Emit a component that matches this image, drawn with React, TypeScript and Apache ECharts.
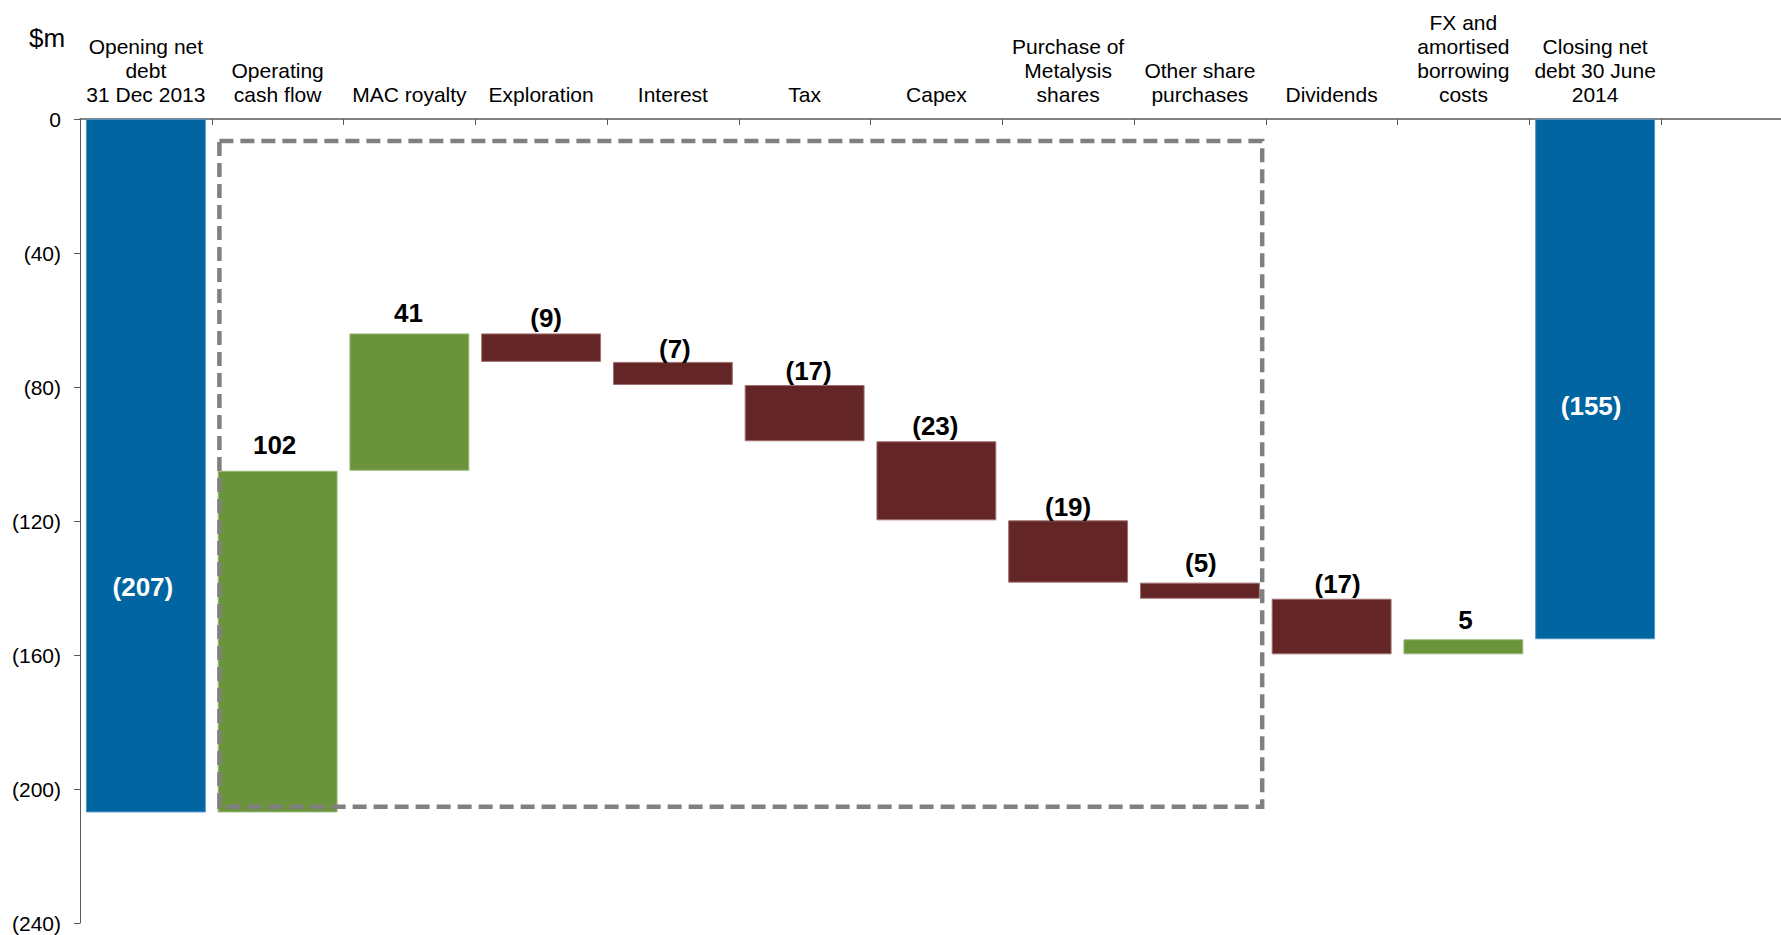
import React, { useEffect, useRef } from "react";
import * as echarts from "echarts";

// ---- Data (US$ m, net debt shown as negative) ----
const categories = [
  "Opening net\ndebt\n31 Dec 2013",
  "Operating\ncash flow",
  "MAC royalty",
  "Exploration",
  "Interest",
  "Tax",
  "Capex",
  "Purchase of\nMetalysis\nshares",
  "Other share\npurchases",
  "Dividends",
  "FX and\namortised\nborrowing\ncosts",
  "Closing net\ndebt 30 June\n2014",
];
const openingNetDebt = -207;
const movements = [102, 41, -8.5, -6.9, -16.8, -23.6, -18.6, -4.8, -16.6, 4.5];
const closingNetDebt = -155.3;
const valueLabels = ["(207)", "102", "41", "(9)", "(7)", "(17)", "(23)", "(19)", "(5)", "(17)", "5", "(155)"];
const yMin = -240;
const yMax = 0;
const yInterval = 40;
// highlighted range: first & last category index, top & bottom value
const boxCategories = [1, 8];
const boxValues = [-6.6, -205.3];

const BLUE = "#0065a1";
const GREEN = "#6a933a";
const RED = "#632526";

export default function App() {
  const ref = useRef<HTMLDivElement>(null);

  useEffect(() => {
    if (!ref.current) return;
    const chart = echarts.init(ref.current, undefined, { renderer: "svg" });

    const baseData: number[] = [];
    const barData: any[] = [];
    const n = categories.length;
    let level = 0;
    const segments: [number, number, string][] = [];
    segments.push([0, openingNetDebt, BLUE]);
    level = openingNetDebt;
    movements.forEach((m) => {
      const next = level + m;
      segments.push([level, next, m >= 0 ? GREEN : RED]);
      level = next;
    });
    segments.push([0, closingNetDebt, BLUE]);

    const gaps = [0, 13, 7, 2, 0, 1, 2, 0, 7, 2, 6, 0];
    const shifts = [0, -3, -1, 5, 2, 4, -1, 0, 1, 6, 2, 0];
    segments.forEach(([a, b, color], i) => {
      const top = Math.max(a, b);
      const bottom = Math.min(a, b);
      baseData.push(top);
      const isTotal = i === 0 || i === n - 1;
      barData.push({
        value: bottom - top,
        itemStyle: {
          color,
          borderColor: color === BLUE ? "#4f94c6" : color === GREEN ? "#9dba7e" : "#a07071",
          borderWidth: 1,
        },
        label: isTotal
          ? {
              show: true,
              position: "inside",
              color: "#fff",
              offset: i === 0 ? [-3, 121] : [-4, 27],
            }
          : { show: true, position: "top", distance: gaps[i], offset: [shifts[i], 0], color: "#000" },
      });
    });

    const font = "'Liberation Sans', Arial, sans-serif";

    chart.setOption({
      animation: false,
      grid: { left: 80, top: 119, width: 1581, height: 804 },
      xAxis: {
        type: "category",
        position: "top",
        data: categories,
        axisLine: { show: true, lineStyle: { color: "#595959", width: 1.5 } },
        axisTick: { show: true, inside: true, length: 6, lineStyle: { color: "#595959", width: 1 } },
        axisLabel: {
          interval: 0,
          color: "#000",
          fontFamily: font,
          fontSize: 21,
          lineHeight: 24,
          margin: 13,
        },
        splitLine: { show: false },
      },
      yAxis: {
        type: "value",
        min: yMin,
        max: yMax,
        interval: yInterval,
        axisLine: { show: true, lineStyle: { color: "#595959", width: 1 } },
        axisTick: { show: true, length: 6, lineStyle: { color: "#595959" } },
        axisLabel: {
          color: "#000",
          fontFamily: font,
          fontSize: 21,
          margin: 19,
          formatter: (v: number) => (v === 0 ? "0" : `(${-v})`),
        },
        splitLine: { show: false },
      },
      series: [
        {
          type: "bar",
          stack: "w",
          data: baseData,
          itemStyle: { color: "transparent" },
          barCategoryGap: "9%",
          silent: true,
        },
        {
          type: "bar",
          stack: "w",
          data: barData,
          barCategoryGap: "9%",
          label: {
            fontFamily: font,
            fontSize: 26,
            fontWeight: "bold",
            formatter: (p: any) => valueLabels[p.dataIndex],
          },
        },
        {
          type: "custom",
          z: 10,
          clip: false,
          silent: true,
          encode: { x: [0, 1], y: [2, 3] },
          data: [[boxCategories[0], boxCategories[1], boxValues[0], boxValues[1]]],
          renderItem: (params: any, api: any) => {
            const p1 = api.coord([api.value(0), api.value(2)]);
            const p2 = api.coord([api.value(1), api.value(3)]);
            const band = api.size([1, 0])[0];
            const x1 = p1[0] - band * 0.442;
            const x2 = p2[0] + band * 0.473;
            return {
              type: "rect",
              shape: { x: x1, y: p1[1], width: x2 - x1, height: p2[1] - p1[1] },
              style: { fill: "none", stroke: "#808080", lineWidth: 4.5, lineDash: [14, 7] },
            };
          },
        },
      ],
      graphic: [
        {
          type: "text",
          x: 47,
          y: 38,
          style: {
            text: "$m",
            fontFamily: font,
            fontSize: 26,
            fill: "#000",
            align: "center",
            verticalAlign: "middle",
          },
        },
        {
          type: "line",
          shape: { x1: 1661, y1: 119, x2: 1781, y2: 119 },
          style: { stroke: "#595959", lineWidth: 1.5 },
        },
      ],
    });

    return () => chart.dispose();
  }, []);

  return (
    <div
      ref={ref}
      style={{ position: "absolute", left: 0, top: 0, width: 1781, height: 935, background: "#fff" }}
    />
  );
}
